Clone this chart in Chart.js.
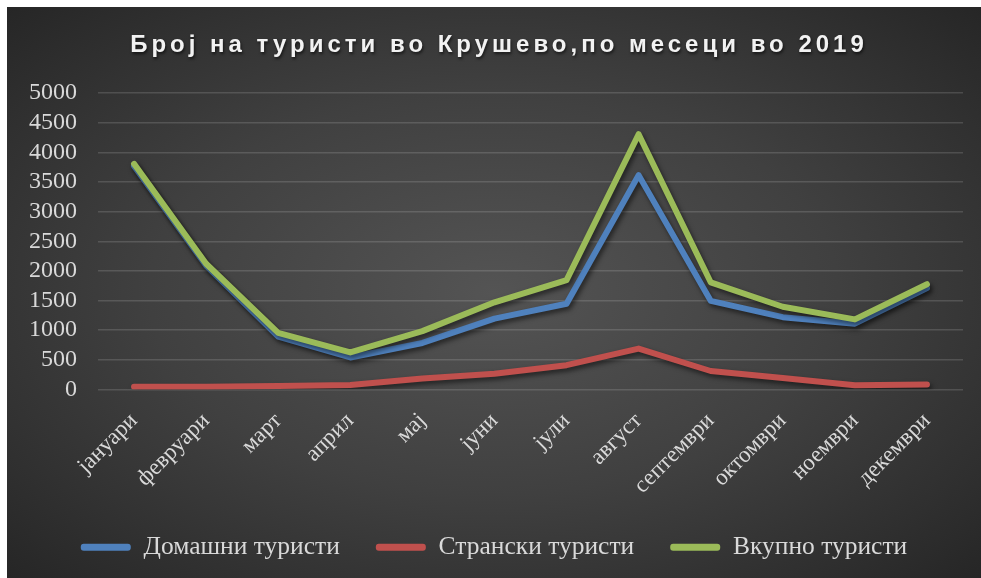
<!DOCTYPE html>
<html>
<head>
<meta charset="utf-8">
<script src="https://cdn.jsdelivr.net/npm/chart.js@4.4.1/dist/chart.umd.min.js"></script>
<style>
html, body { margin: 0; padding: 0; background: #fff; }
#okvir {
    position: absolute; left: 7px; top: 7px; width: 974px; height: 571px;
    background: radial-gradient(ellipse at 50% 50%, #545454 0%, #404040 50%, #262626 100%);
}
</style>
</head>
<body>
<div id="okvir"><canvas id="turisti"></canvas></div>
<script>
var naslov = 'Број на туристи во Крушево,по месеци во 2019';
var meseci = ['јануари', 'февруари', 'март', 'април', 'мај', 'јуни', 'јули', 'август', 'септември', 'октомври', 'ноември', 'декември'];
var domasni = [3770, 2090, 890, 540, 785, 1195, 1445, 3615, 1495, 1220, 1110, 1710];
var stranski = [45, 45, 60, 75, 185, 265, 410, 690, 312, 195, 72, 84];
var vkupno = [3805, 2120, 955, 625, 985, 1470, 1845, 4305, 1808, 1395, 1182, 1775];
var yTikovi = [0, 5000, 500];

var tekst = '#d9d9d9';

// naslov so razmak megu bukvite
var naslovPlugin = {
    id: 'naslov',
    afterDraw: function (chart) {
        var ctx = chart.ctx;
        ctx.save();
        ctx.font = 'bold 24px "Liberation Sans", Arial, sans-serif';
        ctx.letterSpacing = '4px';
        ctx.fillStyle = '#f2f2f2';
        ctx.textAlign = 'center';
        ctx.textBaseline = 'middle';
        ctx.shadowColor = 'rgba(0,0,0,0.6)';
        ctx.shadowBlur = 3;
        ctx.shadowOffsetX = 1;
        ctx.shadowOffsetY = 2;
        ctx.fillText(naslov, 492, 38.5);
        ctx.restore();
    }
};

// senka pod linijata
var senkaPlugin = {
    id: 'senka',
    beforeDatasetsDraw: function (chart) {
        var ctx = chart.ctx;
        ctx.save();
        ctx.shadowColor = 'rgba(0,0,0,0.55)';
        ctx.shadowBlur = 5;
        ctx.shadowOffsetX = 2;
        ctx.shadowOffsetY = 3;
    },
    afterDatasetsDraw: function (chart) {
        chart.ctx.restore();
    }
};

var ctx = document.getElementById('turisti').getContext('2d');
var grafik = new Chart(ctx, {
    type: 'line',
    data: {
        labels: meseci,
        datasets: [{
            label: 'Домашни туристи',
            data: domasni,
            borderColor: '#4f81bd',
            backgroundColor: '#4f81bd',
            order: 3
        }, {
            label: 'Странски туристи',
            data: stranski,
            borderColor: '#c0504d',
            backgroundColor: '#c0504d',
            order: 2
        }, {
            label: 'Вкупно туристи',
            data: vkupno,
            borderColor: '#9bbb59',
            backgroundColor: '#9bbb59',
            order: 1
        }]
    },
    options: {
        responsive: true,
        maintainAspectRatio: false,
        animation: false,
        layout: {
            padding: { top: 86, left: 18, right: 18, bottom: 8 }
        },
        elements: {
            line: { borderWidth: 6, tension: 0, borderCapStyle: 'round', borderJoinStyle: 'round' },
            point: { radius: 0, hoverRadius: 0 }
        },
        scales: {
            x: {
                offset: true,
                grid: { display: false },
                border: { display: false },
                afterFit: function (scale) { scale.height = 109; },
                ticks: {
                    color: tekst,
                    minRotation: 45,
                    maxRotation: 45,
                    padding: 10,
                    font: { family: '"Liberation Serif", serif', size: 23 }
                }
            },
            y: {
                min: yTikovi[0],
                max: yTikovi[1],
                grid: { color: 'rgba(255,255,255,0.14)', lineWidth: 1.5, drawTicks: false },
                border: { display: false },
                afterFit: function (scale) { scale.width = 73; },
                ticks: {
                    stepSize: yTikovi[2],
                    autoSkip: false,
                    color: tekst,
                    padding: 21,
                    font: { family: '"Liberation Serif", serif', size: 24 },
                    callback: function (v) { return String(v); }
                }
            }
        },
        plugins: {
            title: { display: false },
            tooltip: { enabled: false },
            legend: {
                position: 'bottom',
                labels: {
                    color: tekst,
                    boxWidth: 50,
                    boxHeight: 7,
                    padding: 36,
                    useBorderRadius: true,
                    borderRadius: 3,
                    font: { family: '"Liberation Serif", serif', size: 25.5 },
                    sort: function (a, b) { return a.datasetIndex - b.datasetIndex; },
                    generateLabels: function (chart) {
                        var stavki = Chart.defaults.plugins.legend.labels.generateLabels(chart);
                        stavki.forEach(function (s) { s.lineWidth = 0; });
                        return stavki;
                    }
                }
            }
        }
    },
    plugins: [senkaPlugin, naslovPlugin]
});
</script>
</body>
</html>
